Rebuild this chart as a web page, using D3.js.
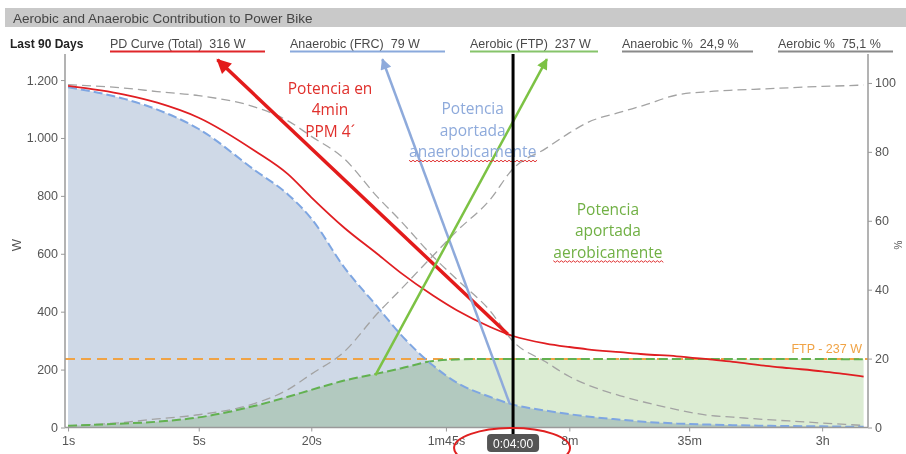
<!DOCTYPE html>
<html>
<head>
<meta charset="utf-8">
<script src="https://cdn.jsdelivr.net/npm/d3@7"></script>
<style>
  html, body { margin: 0; padding: 0; background: #fff; }
  svg { display: block; font-family: "Liberation Sans", Arial, Helvetica, sans-serif; }
  .pre { white-space: pre; }
</style>
</head>
<body>
<div id="chart"></div>
<script>
// ── Data ──
const durations = [1, 2, 3, 5, 10, 15, 20, 30, 45, 60, 90, 120, 180, 240, 360, 480, 600, 900, 1200, 1800, 2700, 3600, 5400, 7200, 10800, 14400, 18000];
const totalW = [1180, 1150, 1122, 1070, 955, 875, 795, 690, 600, 535, 455, 405, 348, 316, 290, 278, 270, 260, 253, 246, 235, 227, 213, 205, 194, 184, 176];
const anaerobicW = [1175, 1135, 1098, 1031, 888, 805, 722, 553, 418, 322, 213, 155, 106, 79, 58, 46, 38, 27, 20, 14, 10, 8, 6, 5, 4, 3, 3];
const aerobicW = [6, 14, 20, 35, 75, 106, 130, 162, 186, 204, 230, 235, 237, 237, 237, 237, 237, 237, 237, 237, 237, 237, 237, 237, 237, 236, 236];
const anaerobicPct = [99.5, 98.5, 97.5, 96.3, 93, 89, 84.5, 78, 67, 60, 49.5, 43, 34, 25, 19, 14.8, 12.4, 9.2, 7.4, 5.2, 3.5, 3, 2.3, 1.9, 1.3, 0.9, 0.6];
const aerobicPct = [0.5, 1.5, 2.5, 3.7, 7, 11, 15.5, 22, 33, 40, 50, 57, 66, 75.1, 81, 85.5, 88.5, 91.5, 93.5, 96.5, 97.5, 97.9, 98.3, 98.6, 99, 99.2, 99.4];

const ftp = 237;
const markerTime = 240;
const markerLabel = "0:04:00";

const xTickValues = [1, 5, 20, 105, 480, 2100, 10800];
const xTickLabels = ["1s", "5s", "20s", "1m45s", "8m", "35m", "3h"];
const yTickValues = [0, 200, 400, 600, 800, 1000, 1200];
const yTickLabels = ["0", "200", "400", "600", "800", "1.000", "1.200"];
const pctTickValues = [0, 20, 40, 60, 80, 100];

const legendItems = [
  { label: "PD Curve (Total)  316 W", color: "#e0262a" },
  { label: "Anaerobic (FRC)  79 W", color: "#8aa9dc" },
  { label: "Aerobic (FTP)  237 W", color: "#86c46a" },
  { label: "Anaerobic %  24,9 %", color: "#8a8a8a" },
  { label: "Aerobic %  75,1 %", color: "#8a8a8a" }
];

// annotations in data units: [seconds, watts]
const arrows = [
  { from: [225, 322], to: [6.3, 1270], color: "#e31b1b", w: 3.5, id: "aR", head: 17 },
  { from: [230, 83], to: [48, 1272], color: "#8eaadb", w: 2.5, id: "aB", head: 13 },
  { from: [44, 180], to: [364, 1272], color: "#7cc244", w: 2.5, id: "aG", head: 13 }
];
const notes = [
  { lines: ["Potencia en", "4min", "PPM 4´"], at: [25.2, 1152], color: "#e0302c", wavy: -1 },
  { lines: ["Potencia", "aportada", "anaerobicamente"], at: [146, 1082], color: "#8eaadb", wavy: 2 },
  { lines: ["Potencia", "aportada", "aerobicamente"], at: [772, 735], color: "#70b044", wavy: 2 }
];

// ── Layout ──
const W = 906, H = 454;
const X0 = 65, X1 = 868, YB = 427.5, YT = 54;

const svg = d3.select("#chart").append("svg")
  .attr("width", W).attr("height", H).attr("viewBox", `0 0 ${W} ${H}`);

const x = d3.scaleLog().domain([0.963, 19000]).range([X0, X1]);
const y = d3.scaleLinear().domain([0, 1290]).range([YB, YT]);
const yP = d3.scaleLinear().domain([0, 108.4]).range([YB, YT]);

const rows = durations.map((t, i) => ({
  t, tot: totalW[i], an: anaerobicW[i], ae: aerobicW[i], anP: anaerobicPct[i], aeP: aerobicPct[i]
}));

// ── Title bar ──
svg.append("rect").attr("x", 5).attr("y", 8).attr("width", W - 5).attr("height", 19).attr("fill", "#c9c9c9");
svg.append("text").attr("x", 13).attr("y", 22.5).attr("font-size", 13.5).attr("fill", "#454545")
  .text("Aerobic and Anaerobic Contribution to Power Bike");

// ── Legend row ──
svg.append("text").attr("x", 10).attr("y", 48).attr("font-size", 12).attr("font-weight", "bold")
  .attr("fill", "#222").text("Last 90 Days");
const legX = [110, 290, 470, 622, 778];
const legW = [155, 155, 128, 131, 115];
legendItems.forEach((d, i) => {
  svg.append("text").attr("class", "pre").attr("x", legX[i]).attr("y", 48).attr("font-size", 12.5)
    .attr("fill", "#4a4a4a").text(d.label);
  svg.append("line").attr("x1", legX[i]).attr("x2", legX[i] + legW[i]).attr("y1", 51.5).attr("y2", 51.5)
    .attr("stroke", d.color).attr("stroke-width", 2.2);
});

// ── Areas ──
const areaAn = d3.area().x(d => x(d.t)).y0(YB).y1(d => y(d.an)).curve(d3.curveMonotoneX);
const areaAe = d3.area().x(d => x(d.t)).y0(YB).y1(d => y(d.ae)).curve(d3.curveMonotoneX);
svg.append("path").datum(rows).attr("d", areaAn).attr("fill", "#cfd9e7");
svg.append("path").datum(rows).attr("d", areaAe).attr("fill", "#dcecd3").style("mix-blend-mode", "multiply");

// ── Percent curves (right axis) ──
const linePct = key => d3.line().x(d => x(d.t)).y(d => yP(d[key])).curve(d3.curveMonotoneX);
["anP", "aeP"].forEach(k => {
  svg.append("path").datum(rows).attr("d", linePct(k)).attr("fill", "none")
    .attr("stroke", "#a3a3a3").attr("stroke-width", 1.3).attr("stroke-dasharray", "9,5");
});

// ── FTP line ──
svg.append("line").attr("x1", X0).attr("x2", X1).attr("y1", y(ftp)).attr("y2", y(ftp))
  .attr("stroke", "#f0a345").attr("stroke-width", 2).attr("stroke-dasharray", "10,6");
svg.append("text").attr("x", 862).attr("y", y(ftp) - 6).attr("text-anchor", "end").attr("font-size", 12.5)
  .attr("fill", "#f0a345").text("FTP - 237 W");

// ── Power curves ──
const lineW = key => d3.line().x(d => x(d.t)).y(d => y(d[key])).curve(d3.curveMonotoneX);
svg.append("path").datum(rows).attr("d", lineW("ae")).attr("fill", "none")
  .attr("stroke", "#62b150").attr("stroke-width", 2).attr("stroke-dasharray", "9,4");
svg.append("path").datum(rows).attr("d", lineW("an")).attr("fill", "none")
  .attr("stroke", "#7ea6e2").attr("stroke-width", 2).attr("stroke-dasharray", "9,4");
svg.append("path").datum(rows).attr("d", lineW("tot")).attr("fill", "none")
  .attr("stroke", "#e01e22").attr("stroke-width", 1.8);

// ── Axes ──
const axisColor = "#9a9a9a";
const gx = svg.append("g").attr("transform", `translate(0,${YB})`)
  .call(d3.axisBottom(x).tickValues(xTickValues).tickFormat((d, i) => xTickLabels[i]).tickSize(4).tickSizeOuter(0));
gx.select(".domain").attr("d", `M${X0},0H${X1}`);
const gyL = svg.append("g").attr("transform", `translate(${X0},0)`)
  .call(d3.axisLeft(y).tickValues(yTickValues).tickFormat((d, i) => yTickLabels[i]).tickSize(4).tickSizeOuter(0));
gyL.select(".domain").attr("d", `M0,${YT}V${YB}`);
const gyR = svg.append("g").attr("transform", `translate(${X1},0)`)
  .call(d3.axisRight(yP).tickValues(pctTickValues).tickSize(4).tickSizeOuter(0));
gyR.select(".domain").attr("d", `M0,${YT}V${YB}`);
[gx, gyL, gyR].forEach(g => {
  g.select(".domain").attr("stroke", axisColor).attr("stroke-width", 1.5);
  g.selectAll(".tick line").attr("stroke", axisColor);
  g.selectAll("text").attr("fill", "#555").attr("font-size", 12.5)
    .attr("font-family", "'Liberation Sans', Arial, sans-serif");
});
gx.selectAll("text").attr("dy", "0.85em");

svg.append("text").attr("transform", "translate(21,245) rotate(-90)").attr("text-anchor", "middle")
  .attr("font-size", 13).attr("fill", "#555").text("W");
svg.append("text").attr("transform", "translate(902,245) rotate(-90)").attr("text-anchor", "middle")
  .attr("font-size", 10).attr("fill", "#555").text("%");

// ── Arrow annotations ──
const defs = svg.append("defs");
arrows.forEach(a => {
  defs.append("marker").attr("id", a.id).attr("viewBox", "0 0 10 10").attr("refX", 9).attr("refY", 5)
    .attr("markerUnits", "userSpaceOnUse").attr("markerWidth", a.head).attr("markerHeight", a.head * 0.85)
    .attr("orient", "auto")
    .append("path").attr("d", "M0,0L10,5L0,10Z").attr("fill", a.color);
});
arrows.forEach(a => {
  svg.append("line")
    .attr("x1", x(a.from[0])).attr("y1", y(a.from[1]))
    .attr("x2", x(a.to[0])).attr("y2", y(a.to[1]))
    .attr("stroke", a.color).attr("stroke-width", a.w).attr("marker-end", `url(#${a.id})`);
});

// ── Text annotations ──
function wavyPath(x0, x1, yy) {
  let p = `M${x0},${yy}`;
  for (let xx = x0, k = 0; xx < x1; xx += 2, k++) p += `L${xx + 2},${yy + (k % 2 ? 0 : 1.6)}`;
  return p;
}
notes.forEach(n => {
  const cx = x(n.at[0]), cy = y(n.at[1]);
  n.lines.forEach((ln, i) => {
    const t = svg.append("text").attr("x", cx).attr("y", cy + i * 21.5).attr("text-anchor", "middle")
      .attr("font-family", "'Open Sans', 'Noto Sans', sans-serif").attr("font-size", 15.5)
      .attr("fill", n.color).text(ln);
    if (i === n.wavy) {
      const bb = t.node().getBBox();
      svg.append("path").attr("d", wavyPath(bb.x, bb.x + bb.width, cy + i * 21.5 + 3))
        .attr("fill", "none").attr("stroke", "#e03030").attr("stroke-width", 1);
    }
  });
});

// ── 4 min marker ──
const mx = x(markerTime);
svg.append("line").attr("x1", mx).attr("x2", mx).attr("y1", YT).attr("y2", 437)
  .attr("stroke", "#000").attr("stroke-width", 3);
svg.append("rect").attr("x", mx - 26).attr("y", 434).attr("width", 52).attr("height", 18).attr("rx", 4)
  .attr("fill", "#555");
svg.append("text").attr("x", mx).attr("y", 447.5).attr("text-anchor", "middle").attr("font-size", 12)
  .attr("fill", "#fff").text(markerLabel);
svg.append("ellipse").attr("cx", mx - 1).attr("cy", 448).attr("rx", 58).attr("ry", 20)
  .attr("fill", "none").attr("stroke", "#e02020").attr("stroke-width", 2);
</script>
</body>
</html>
